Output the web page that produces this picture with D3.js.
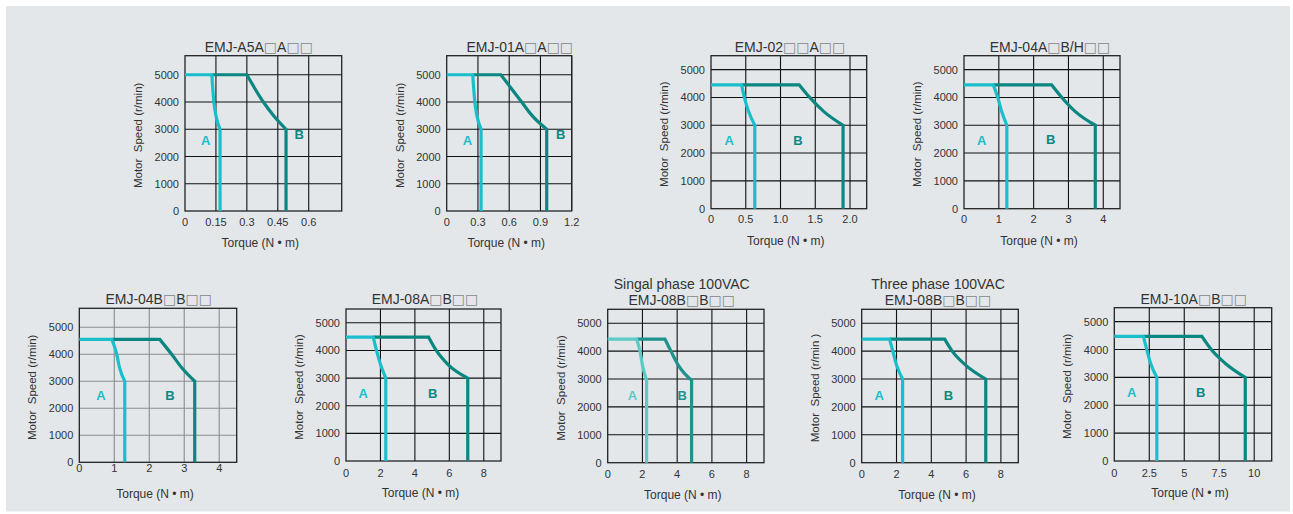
<!DOCTYPE html>
<html>
<head>
<meta charset="utf-8">
<script src="https://cdn.jsdelivr.net/npm/d3@7"></script>
<style>
body { margin: 0; background: #fff; }
svg text { font-family: "Liberation Sans", Arial, sans-serif; fill: #333; }
</style>
</head>
<body>
<svg id="chart" width="1293" height="514"></svg>
<script>
// Torque / speed curves, [torque (N.m), speed (r/min)]
var a5aCurveA = [[0, 5000], [0.13, 5000], [0.14, 4000], [0.15, 3500], [0.17, 3000], [0.17, 0]];
var a5aCurveB = [[0.13, 5000], [0.30, 5000], [0.38, 4000], [0.43, 3500], [0.49, 3000], [0.49, 0]];
var s01aCurveA = [[0, 5000], [0.25, 5000], [0.27, 4000], [0.29, 3500], [0.33, 3000], [0.33, 0]];
var s01aCurveB = [[0.25, 5000], [0.52, 5000], [0.72, 4000], [0.82, 3500], [0.96, 3000], [0.96, 0]];
var s02CurveA = [[0, 4450], [0.44, 4450], [0.48, 4000], [0.54, 3500], [0.63, 3000], [0.63, 0]];
var s02CurveB = [[0.44, 4450], [1.27, 4450], [1.42, 4000], [1.62, 3500], [1.90, 3000], [1.90, 0]];
var s04aCurveA = [[0, 4450], [0.84, 4450], [0.97, 4000], [1.08, 3500], [1.23, 3000], [1.23, 0]];
var s04aCurveB = [[0.84, 4450], [2.52, 4450], [2.81, 4000], [3.19, 3500], [3.77, 3000], [3.77, 0]];
var s04bCurveA = [[0, 4550], [0.93, 4550], [1.07, 4000], [1.15, 3500], [1.30, 3000], [1.30, 0]];
var s04bCurveB = [[0.93, 4550], [2.30, 4550], [2.64, 4000], [2.93, 3500], [3.30, 3000], [3.30, 0]];
var s08aCurveA = [[0, 4480], [1.58, 4480], [1.77, 4000], [2.00, 3500], [2.31, 3000], [2.31, 0]];
var s08aCurveB = [[1.58, 4480], [4.80, 4480], [5.24, 4000], [5.91, 3500], [7.07, 3000], [7.07, 0]];
var s08b1CurveA = [[0, 4430], [1.67, 4430], [1.86, 4000], [2.00, 3500], [2.24, 2950], [2.24, 0]];
var s08b1CurveB = [[1.67, 4430], [3.30, 4430], [3.64, 4000], [4.06, 3500], [4.83, 2950], [4.83, 0]];
var s08b3CurveA = [[0, 4430], [1.60, 4430], [1.79, 4000], [2.00, 3500], [2.35, 3000], [2.35, 0]];
var s08b3CurveB = [[1.60, 4430], [4.77, 4430], [5.20, 4000], [5.97, 3500], [7.13, 3000], [7.13, 0]];
var s10aCurveA = [[0, 4470], [2.08, 4470], [2.32, 4000], [2.60, 3500], [3.04, 3000], [3.04, 0]];
var s10aCurveB = [[2.08, 4470], [6.26, 4470], [6.93, 4000], [7.94, 3500], [9.36, 3000], [9.36, 0]];

var titles = [
    ["EMJ-A5A□A□□"], ["EMJ-01A□A□□"], ["EMJ-02□□A□□"], ["EMJ-04A□B/H□□"],
    ["EMJ-04B□B□□"], ["EMJ-08A□B□□"], ["Singal phase 100VAC", "EMJ-08B□B□□"],
    ["Three phase 100VAC", "EMJ-08B□B□□"], ["EMJ-10A□B□□"]
];
var speedTicks = [0, 1000, 2000, 3000, 4000, 5000];
var torqueTicks = [
    [0, 0.15, 0.3, 0.45, 0.6], [0, 0.3, 0.6, 0.9, 1.2], [0, 0.5, 1, 1.5, 2], [0, 1, 2, 3, 4],
    [0, 1, 2, 3, 4], [0, 2, 4, 6, 8], [0, 2, 4, 6, 8], [0, 2, 4, 6, 8], [0, 2.5, 5, 7.5, 10]
];
var torqueTickLabels = [
    ["0", "0.15", "0.3", "0.45", "0.6"], ["0", "0.3", "0.6", "0.9", "1.2"],
    ["0", "0.5", "1.0", "1.5", "2.0"], ["0", "1", "2", "3", "4"], ["0", "1", "2", "3", "4"],
    ["0", "2", "4", "6", "8"], ["0", "2", "4", "6", "8"], ["0", "2", "4", "6", "8"],
    ["0", "2.5", "5", "7.5", "10"]
];
var torqueMax = [0.76, 1.2, 2.24, 4.48, 4.5, 9, 9, 9, 11.25];
var speedMax = [5700, 5700, 5500, 5500, 5700, 5500, 5500, 5500, 5500];
// where the A / B region letters sit, [torque, speed]
var letterA = [[0.10, 2570], [0.20, 2580], [0.26, 2460], [0.51, 2460], [0.62, 2465], [1.0, 2450], [1.42, 2427], [1.0, 2427], [1.24, 2475]];
var letterB = [[0.554, 2826], [1.094, 2826], [1.25, 2460], [2.49, 2470], [2.59, 2465], [5.03, 2450], [4.29, 2427], [4.98, 2427], [6.18, 2475]];
var curvesA = [a5aCurveA, s01aCurveA, s02CurveA, s04aCurveA, s04bCurveA, s08aCurveA, s08b1CurveA, s08b3CurveA, s10aCurveA];
var curvesB = [a5aCurveB, s01aCurveB, s02CurveB, s04aCurveB, s04bCurveB, s08aCurveB, s08b1CurveB, s08b3CurveB, s10aCurveB];

// page layout of each small chart (plot box in px)
var boxes = [
    {l: 185, t: 55.7, r: 341.7, b: 211, tx: 258.8, ty: 52, tick: 15},
    {l: 446.7, t: 55.7, r: 571.7, b: 211, tx: 519.8, ty: 52, tick: 15},
    {l: 711, t: 55.7, r: 866.7, b: 208.7, tx: 790, ty: 52, tick: 14.5},
    {l: 964, t: 55.7, r: 1120, b: 208.7, tx: 1050, ty: 52, tick: 14.5},
    {l: 79.3, t: 308.3, r: 236.7, b: 462.3, tx: 158.7, ty: 304, tick: 9.5, grey: true},
    {l: 346, t: 309, r: 501, b: 461, tx: 425, ty: 304, tick: 16},
    {l: 607.7, t: 309.3, r: 764, b: 462.7, tx: 681.7, ty: 305, tick: 15.5, light: true},
    {l: 861.7, t: 309.3, r: 1018.3, b: 462.7, tx: 938, ty: 305, tick: 15.5, odd: true},
    {l: 1114.3, t: 307.7, r: 1271.7, b: 461, tx: 1193.7, ty: 304, tick: 15.5}
];

var svg = d3.select("#chart");
svg.append("rect")
    .attr("x", 6).attr("y", 6)
    .attr("width", 1284).attr("height", 505.5)
    .style("fill", "#e3e7ea");

function drawTitle(g, lines, x, y) {
    for (var k = 0; k < lines.length; k++) {
        var txt = g.append("text")
            .attr("x", x)
            .attr("y", y - (lines.length - 1 - k) * 16.5)
            .attr("text-anchor", "middle")
            .style("font-size", "14px");
        // the little option boxes are drawn lighter than the letters
        lines[k].split(/(□+)/).forEach(function (part) {
            if (part == "") return;
            var ts = txt.append("tspan").text(part);
            if (part.charAt(0) == "□") ts.style("fill", "#85888b").style("font-family", "DejaVu Sans").style("font-size", "14px");
        });
    }
}

function drawPanel(i) {
    var bx = boxes[i];
    var g = svg.append("g");
    var x = d3.scaleLinear().domain([0, torqueMax[i]]).range([bx.l, bx.r]);
    var y = d3.scaleLinear().domain([0, speedMax[i]]).range([bx.b, bx.t]);
    var gridColor = bx.grey ? "#8c8c8c" : "#111";

    // grid
    g.selectAll(".vgrid").data(torqueTicks[i].slice(1)).enter().append("line")
        .attr("x1", function (d) { return x(d); }).attr("x2", function (d) { return x(d); })
        .attr("y1", bx.t).attr("y2", bx.b)
        .style("stroke", gridColor).style("stroke-width", 1.1);
    g.selectAll(".hgrid").data(speedTicks.slice(1)).enter().append("line")
        .attr("x1", bx.l).attr("x2", bx.r)
        .attr("y1", function (d) { return y(d); }).attr("y2", function (d) { return y(d); })
        .style("stroke", gridColor).style("stroke-width", 1.1);
    g.append("rect")
        .attr("x", bx.l).attr("y", bx.t)
        .attr("width", bx.r - bx.l).attr("height", bx.b - bx.t)
        .style("fill", "none").style("stroke", "#222").style("stroke-width", 1.3);

    // tick labels
    g.selectAll(".ylab").data(speedTicks).enter().append("text")
        .attr("x", bx.l - 6)
        .attr("y", function (d) { return y(d) + 4; })
        .attr("text-anchor", "end")
        .style("font-size", "11px")
        .text(function (d) { return d; });
    g.selectAll(".xlab").data(torqueTicks[i]).enter().append("text")
        .attr("x", function (d) { return x(d); })
        .attr("y", bx.b + bx.tick)
        .attr("text-anchor", "middle")
        .style("font-size", "11px")
        .text(function (d, j) { return torqueTickLabels[i][j]; });

    // axis titles
    g.append("text")
        .attr("x", (bx.l + bx.r) / 2 - 3)
        .attr("y", bx.b + 36)
        .attr("text-anchor", "middle")
        .style("font-size", "12px")
        .style("white-space", "pre")
        .text("Torque (N • m)");
    g.append("text")
        .attr("transform", "translate(" + (bx.l - 43) + "," + ((bx.t + bx.b) / 2 + 2) + ") rotate(-90)")
        .attr("text-anchor", "middle")
        .style("font-size", "11.5px")
        .style("white-space", "pre")
        .text(bx.odd ? "Motor  Speed (r/min )" : "Motor  Speed (r/min)");

    drawTitle(g, titles[i], bx.tx, bx.ty);

    // flat part straight, the falling part smoothed, then straight down to zero
    var bend = d3.line()
        .x(function (d) { return x(d[0]); })
        .y(function (d) { return y(d[1]); })
        .curve(d3.curveMonotoneX);
    function curvePath(pts) {
        var last = pts[pts.length - 1];
        return "M" + x(pts[0][0]) + "," + y(pts[0][1]) +
            "L" + bend(pts.slice(1, -1)).slice(1) +
            "L" + x(last[0]) + "," + y(last[1]);
    }
    var colA = bx.light ? "#5ccbc7" : "#1bbecb";
    var colB = bx.light ? "#1f928c" : "#0b8781";
    // B first so A sits on top where they meet
    g.append("path").datum(curvesB[i]).attr("d", curvePath)
        .style("fill", "none").style("stroke", colB).style("stroke-width", 3.2);
    g.append("path").datum(curvesA[i]).attr("d", curvePath)
        .style("fill", "none").style("stroke", colA).style("stroke-width", 3.2);

    g.append("text")
        .attr("x", x(letterA[i][0])).attr("y", y(letterA[i][1]) + 4.5)
        .attr("text-anchor", "middle")
        .style("font-size", "13px").style("font-weight", "bold").style("fill", colA)
        .text("A");
    g.append("text")
        .attr("x", x(letterB[i][0])).attr("y", y(letterB[i][1]) + 4.5)
        .attr("text-anchor", "middle")
        .style("font-size", "13px").style("font-weight", "bold").style("fill", colB)
        .text("B");
}

for (var i = 0; i < boxes.length; i++) {
    drawPanel(i);
}
</script>
</body>
</html>
